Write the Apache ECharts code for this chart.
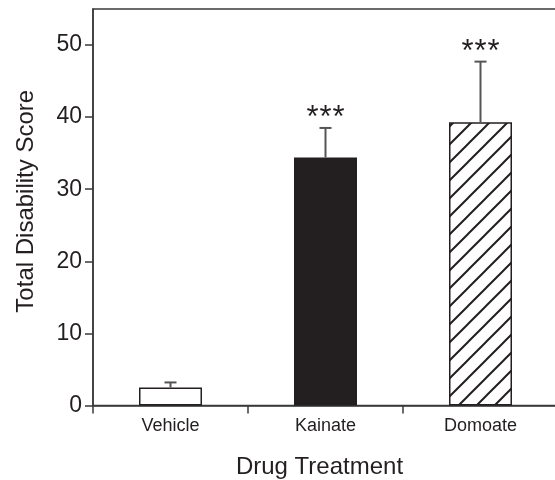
<!DOCTYPE html>
<html>
<head>
<meta charset="utf-8">
<script src="https://cdn.jsdelivr.net/npm/echarts@6/dist/echarts.min.js"></script>
<style>
  html, body { margin: 0; padding: 0; background: #fff; }
  #chart { width: 555px; height: 480px; }
</style>
</head>
<body>
<div id="chart"></div>
<script>
// Total disability score by drug treatment (mean + SEM)
const categories = ['Vehicle', 'Kainate', 'Domoate'];
const meanScores = [2.5, 34.4, 39.3];
const semScores = [0.7, 4.1, 8.4];
const significance = ['', '***', '***'];
const yTicks = [0, 10, 20, 30, 40, 50];

const FONT = '"Liberation Sans", Arial, Helvetica, sans-serif';
const INK = '#231f20';

// Diagonal hatch tile for the Domoate bar
function hatchPattern(size, lineWidth) {
  const c = document.createElement('canvas');
  c.width = size; c.height = size;
  const g = c.getContext('2d');
  g.strokeStyle = INK;
  g.lineWidth = lineWidth;
  g.lineCap = 'square';
  g.beginPath();
  g.moveTo(0, size); g.lineTo(size, 0);
  g.moveTo(-2, 2); g.lineTo(2, -2);
  g.moveTo(size - 2, size + 2); g.lineTo(size + 2, size - 2);
  g.stroke();
  return c;
}

const barFills = ['#ffffff', INK, { image: hatchPattern(18, 2), repeat: 'repeat' }];

const chart = echarts.init(document.getElementById('chart'), null, { renderer: 'canvas' });

chart.setOption({
  animation: false,
  backgroundColor: '#ffffff',
  grid: {
    left: 93, width: 465, top: 9, bottom: 74.5,
    outerBoundsMode: 'none',
    containLabel: false,
    show: true, borderColor: '#3a3a3a', borderWidth: 1.5, backgroundColor: 'transparent'
  },
  xAxis: {
    type: 'category',
    data: categories,
    boundaryGap: true,
    name: 'Drug Treatment',
    nameLocation: 'middle',
    nameGap: 50,
    nameTextStyle: { fontFamily: FONT, fontSize: 24, color: INK, padding: [0, 12, 0, 0] },
    axisLine: { lineStyle: { color: '#3a3a3a', width: 1.5 } },
    axisTick: { show: true, length: 8, lineStyle: { color: '#3a3a3a', width: 1.5 } },
    axisLabel: { fontFamily: FONT, fontSize: 18, color: INK, margin: 12 }
  },
  yAxis: {
    type: 'value',
    min: 0, max: 55,
    name: 'Total Disability Score',
    nameLocation: 'middle',
    nameGap: 55,
    nameRotate: 90,
    nameTextStyle: { fontFamily: FONT, fontSize: 24, color: INK, padding: [0, 0, 0, 12] },
    splitLine: { show: false },
    axisLine: { show: true, lineStyle: { color: '#3a3a3a', width: 1.5 } },
    axisTick: { show: true, length: 8, customValues: yTicks, lineStyle: { color: '#3a3a3a', width: 1.5 } },
    axisLabel: { fontFamily: FONT, fontSize: 23, color: INK, margin: 11, customValues: yTicks }
  },
  series: [
    {
      type: 'bar',
      barWidth: 63,
      data: meanScores.map((v, i) => ({
        value: v,
        itemStyle: { color: barFills[i], borderColor: INK, borderWidth: 1.5 }
      })),
      z: 2
    },
    {
      // upper error bar with cap and significance stars
      type: 'custom',
      z: 3,
      data: meanScores.map((v, i) => [i, v, v + semScores[i]]),
      renderItem: function (params, api) {
        const base = api.coord([api.value(0), api.value(1)]);
        const top = api.coord([api.value(0), api.value(2)]);
        const cap = 6;
        const children = [
          { type: 'line', shape: { x1: base[0], y1: base[1], x2: top[0], y2: top[1] },
            style: { stroke: '#555', lineWidth: 2 } },
          { type: 'line', shape: { x1: top[0] - cap, y1: top[1], x2: top[0] + cap, y2: top[1] },
            style: { stroke: '#555', lineWidth: 2 } }
        ];
        const mark = significance[params.dataIndex];
        const step = 13;
        for (let k = 0; k < mark.length; k++) {
          children.push({
            type: 'text',
            x: top[0] + (k - (mark.length - 1) / 2) * step,
            y: top[1] - 9,
            style: {
              text: mark[k], fill: INK, fontFamily: FONT, fontSize: 31,
              align: 'center', verticalAlign: 'middle'
            }
          });
        }
        return { type: 'group', children: children };
      }
    }
  ]
});
</script>
</body>
</html>
